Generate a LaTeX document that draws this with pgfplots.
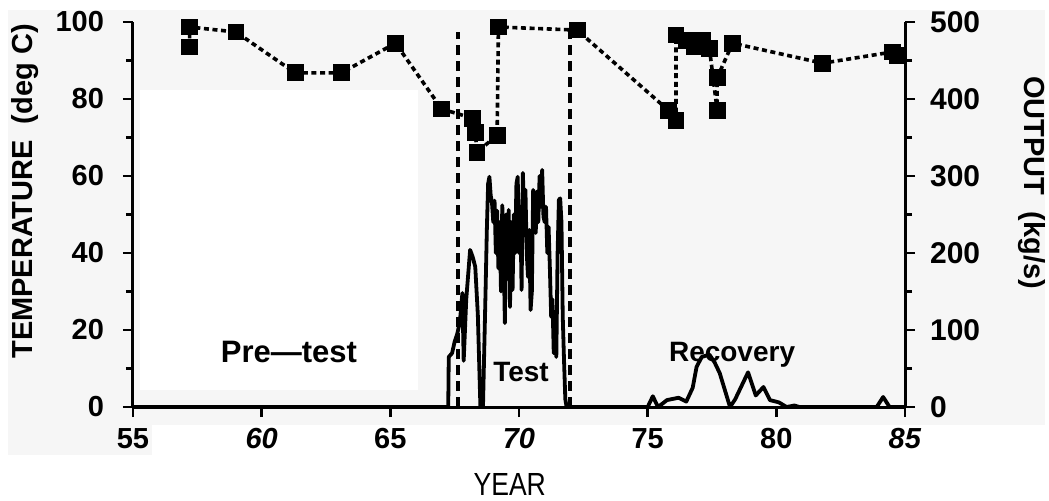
\documentclass[border=0pt]{standalone}
\usepackage{pgfplots}
\pgfplotsset{compat=1.18}
\usepackage{fontspec}
\setmainfont{Liberation Sans}
\definecolor{bg}{HTML}{F6F6F6}
\begin{document}
\begin{tikzpicture}
\path[use as bounding box] (-66.5pt,-46.5pt) rectangle (458pt,203.5pt);
\fill[bg] (-62.5pt,-9pt) rectangle (456pt,198.5pt);
\fill[bg] (-62.5pt,-24pt) rectangle (9.5pt,-9pt);
\fill[white] (3.5pt,8.5pt) rectangle (142.5pt,158.5pt);
\begin{axis}[
  scale only axis, width=386pt, height=192.5pt,
  xmin=55, xmax=85, ymin=0, ymax=100,
  axis y line*=left, axis x line*=bottom,
  axis line style={line width=1.5pt, -},
  xtick={55,60,...,85},
  xticklabels={55,\textit{60},65,\textit{70},75,80,\textit{85}},
  ytick={0,20,...,100}, minor ytick={10,30,50,70,90},
  tick align=outside, major tick length=5pt, minor tick length=3.5pt,
  every tick/.style={line width=1.4pt, black},
  /pgf/number format/assume math mode=true,
  ticklabel style={font=\fontsize{14.5}{16}\selectfont\bfseries},
  yticklabel style={xshift=-6pt},
  xticklabel style={yshift=-2pt},
  clip=false,
  xlabel={\scalebox{0.83}[1]{\fontsize{16}{18}\selectfont YEAR}},
  xlabel style={at={(axis description cs:0.488,0)}, anchor=base, yshift=-44pt},
  ylabel={\fontsize{14.5}{17}\selectfont\bfseries TEMPERATURE~~(deg C)},
  ylabel style={at={(axis description cs:-0.14,0.56)}, anchor=center},
]
\addplot[black, line width=1.8pt, dash pattern=on 2.5pt off 1.8pt,
  mark=square*, mark size=3.3pt, mark options={solid}] coordinates {
(57.2,93.5) (57.2,98.7) (59.0,97.4) (61.3,86.8) (63.1,86.8) (65.2,94.5)
(67.0,77.4) (68.2,75.0) (68.3,71.2) (68.37,66.2) (69.15,70.6) (69.2,98.7)
(72.26,97.9) (75.8,77.1) (76.1,74.5) (76.1,96.6) (76.5,95.3) (76.8,93.5)
(77.15,95.3) (77.4,93.2) (77.7,77.1) (77.7,85.5) (78.3,94.5) (81.8,89.3)
(84.5,92.2) (84.7,91.4)
};
\addplot[black, line width=1.8pt, dash pattern=on 5pt off 3pt] coordinates {(67.62,0) (67.62,97.4)};
\addplot[black, line width=1.8pt, dash pattern=on 5pt off 3pt] coordinates {(71.98,0) (71.98,98)};
\node[font=\fontsize{15.5}{18}\selectfont\bfseries, anchor=center] at (axis cs:61.06,14.3) {Pre—test};
\node[font=\fontsize{14}{16}\selectfont\bfseries, anchor=center] at (axis cs:70.08,9.1) {Test};
\node[font=\fontsize{14}{16}\selectfont\bfseries, anchor=center] at (axis cs:78.28,13.6) {Recovery};
\end{axis}
\begin{axis}[
  scale only axis, width=386pt, height=192.5pt,
  xmin=55, xmax=85, ymin=0, ymax=500,
  axis y line*=right, axis x line=none,
  axis line style={line width=1.5pt, -},
  ytick={0,100,...,500}, minor ytick={50,150,...,450},
  tick align=outside, major tick length=5pt, minor tick length=3.5pt,
  every tick/.style={line width=1.4pt, black},
  /pgf/number format/assume math mode=true,
  ticklabel style={font=\fontsize{15}{17}\selectfont\bfseries},
  yticklabel style={xshift=4pt},
  clip=false,
  ylabel={\fontsize{14.5}{17}\selectfont\bfseries OUTPUT~~(kg/s)},
  ylabel style={at={(axis description cs:1.1645,0.583)}, anchor=center, rotate=180},
]
\addplot[black, line width=1.9pt, line join=round] coordinates {
(55,0) (67.25,0) (67.27,65) (67.4,70) (67.5,85) (67.6,95) (67.7,110) (67.8,148)
(67.85,60) (67.95,140) (68.1,204) (68.2,195) (68.3,182) (68.4,120) (68.5,0) (68.6,0)
(68.70,150) (68.75,230) (68.80,290) (68.85,299) (68.90,275) (68.95,265) (69.00,240)
(69.05,268) (69.10,200) (69.15,255) (69.20,180) (69.25,240) (69.30,150) (69.35,262)
(69.40,210) (69.45,109) (69.50,250) (69.55,170) (69.60,256) (69.65,130) (69.70,240)
(69.75,152) (69.80,250) (69.85,200) (69.90,290) (69.95,299) (70.00,200) (70.05,260)
(70.10,152) (70.15,304) (70.20,250) (70.25,282) (70.30,200) (70.35,169) (70.40,230)
(70.45,126) (70.50,150) (70.55,282) (70.60,260) (70.65,226) (70.70,280) (70.75,240)
(70.80,300) (70.85,260) (70.90,308) (70.95,247) (71.00,240) (71.05,260) (71.10,200)
(71.15,234) (71.20,180) (71.25,117) (71.30,140) (71.35,70) (71.40,110) (71.45,65)
(71.50,200) (71.55,269) (71.60,271) (71.65,240) (71.70,117) (71.75,60) (71.80,10)
(71.85,0) (75.0,0) (75.2,14) (75.4,0) (75.6,5)
(75.75,9) (76.2,12) (76.5,7) (76.75,25) (76.9,52) (77.1,65) (77.4,68) (77.6,58)
(77.8,44) (78.2,0) (78.4,10) (78.9,45) (79.2,15) (79.5,26) (79.75,9) (80.1,6)
(80.4,0) (80.7,2) (80.9,0) (83.9,0) (84.15,13) (84.4,0) (85,0)
};
\end{axis}
\end{tikzpicture}
\end{document}
